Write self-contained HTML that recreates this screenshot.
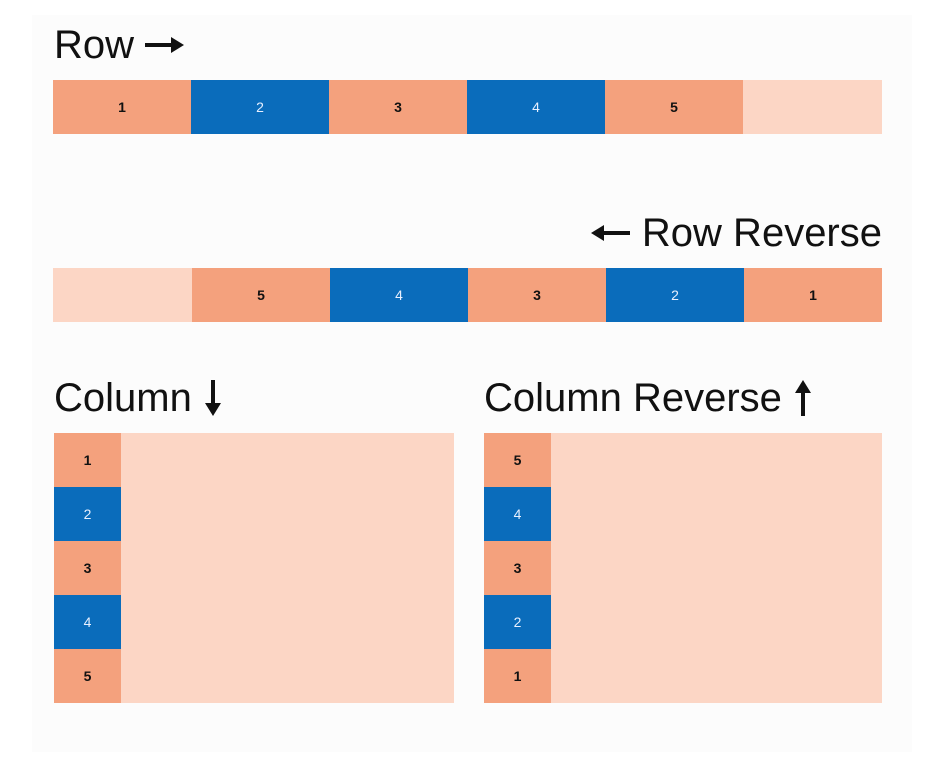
<!DOCTYPE html>
<html><head><meta charset="utf-8"><style>
body{margin:0;width:931px;height:768px;background:#fff;font-family:"Liberation Sans",sans-serif;position:relative;overflow:hidden}
.panel{position:absolute;left:32px;top:15px;width:880px;height:737px;background:#fcfcfc}
.t{position:absolute;font-size:40px;color:#111;line-height:40px;white-space:nowrap;display:flex;align-items:center}
.t svg{display:block}
.box{position:absolute;background:#fcd6c5;display:flex}
.it{display:flex;align-items:center;justify-content:center;font-size:14px}
.s{background:#f4a17d;color:#111;font-weight:bold}
.b{background:#0a6cbb;color:#e8f0ff}
.row .it{width:138px;height:54px}
.col{flex-direction:column}
.col .it{width:67px;height:54px}
</style></head><body>
<div class="panel"></div>
<div class="t" style="left:54px;top:25px">Row<svg style="margin-left:11px" width="40" height="20" viewBox="0 0 40 20"><rect x="0" y="8" width="28" height="4" fill="#111"/><polygon points="26,2 39,10 26,18" fill="#111"/></svg></div>
<div class="box row" style="left:53px;top:80px;width:829px;height:54px">
<div class="it s">1</div><div class="it b">2</div><div class="it s">3</div><div class="it b">4</div><div class="it s">5</div></div>
<div class="t" style="right:49px;top:213px"><svg style="margin-right:12px" width="40" height="20" viewBox="0 0 40 20"><rect x="12" y="8" width="28" height="4" fill="#111"/><polygon points="14,2 1,10 14,18" fill="#111"/></svg>Row Reverse</div>
<div class="box row" style="left:53px;top:268px;width:829px;height:54px;justify-content:flex-end">
<div class="it s">5</div><div class="it b">4</div><div class="it s">3</div><div class="it b">2</div><div class="it s">1</div></div>
<div class="t" style="left:54px;top:378px">Column<svg style="margin-left:11px" width="20" height="40" viewBox="0 0 20 40"><rect x="8" y="2" width="4" height="26" fill="#111"/><polygon points="2,25 10,38 18,25" fill="#111"/></svg></div>
<div class="box col" style="left:54px;top:433px;width:400px;height:270px">
<div class="it s">1</div><div class="it b">2</div><div class="it s">3</div><div class="it b">4</div><div class="it s">5</div></div>
<div class="t" style="left:484px;top:378px">Column Reverse<svg style="margin-left:11px" width="20" height="40" viewBox="0 0 20 40"><rect x="8" y="12" width="4" height="26" fill="#111"/><polygon points="2,15 10,2 18,15" fill="#111"/></svg></div>
<div class="box col" style="left:484px;top:433px;width:398px;height:270px">
<div class="it s">5</div><div class="it b">4</div><div class="it s">3</div><div class="it b">2</div><div class="it s">1</div></div>
</body></html>
